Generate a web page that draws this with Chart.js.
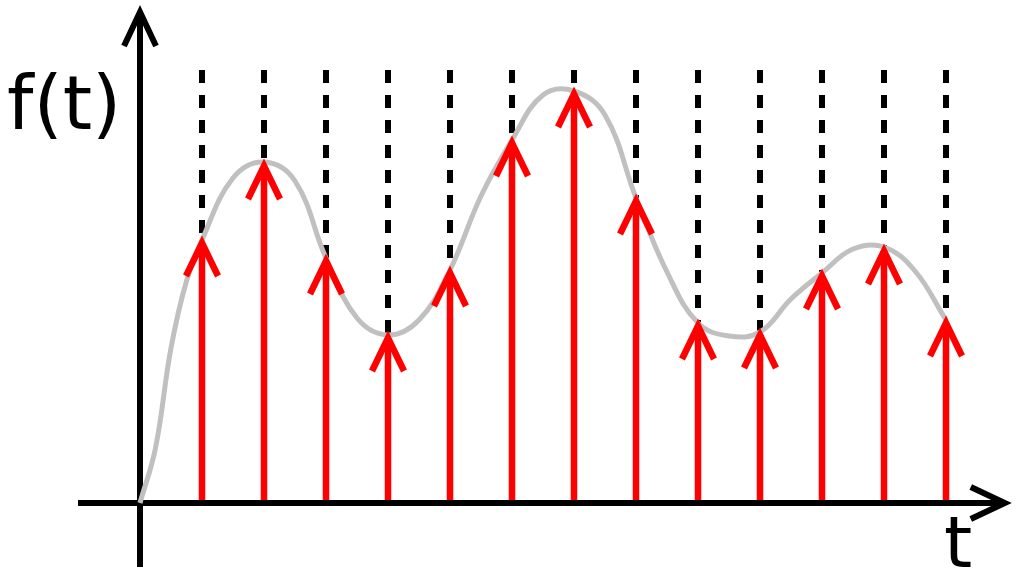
<!DOCTYPE html>
<html>
<head>
<meta charset="utf-8">
<script src="https://cdn.jsdelivr.net/npm/chart.js@4"></script>
<style>
  body { margin: 0; background: #fff; }
  #wrap { width: 1024px; height: 578px; }
</style>
</head>
<body>
<div id="wrap"><canvas id="c" width="1024" height="578"></canvas></div>
<script>
    // 采样时刻和采样值
    const sampleT = [1, 2, 3, 4, 5, 6, 7, 8, 9, 10, 11, 12, 13];
    const sampleV = [2.63, 3.40, 2.45, 1.68, 2.33, 3.63, 4.12, 3.05, 1.80, 1.71, 2.30, 2.55, 1.83];

    // 连续信号 f(t)（从图中读出的点）
    const curveT = [0, 0.25, 0.5, 0.75, 1, 1.5, 2, 2.5, 3, 3.5, 4, 4.5, 5, 5.5, 6, 6.5, 7, 7.5,
                    8, 8.5, 9, 9.5, 10, 10.5, 11, 11.5, 12, 12.5, 13];
    const curveV = [0, 0.55, 1.55, 2.22, 2.63, 3.25, 3.41, 3.22, 2.45, 1.85, 1.68, 1.83, 2.33, 3.07, 3.63,
                    4.08, 4.12, 3.88, 3.05, 2.31, 1.80, 1.67, 1.71, 2.04, 2.30, 2.54, 2.56, 2.32, 1.83];

    const axisLabelY = 'f(t)';
    const axisLabelX = 't';

    // 画坐标轴、虚线
    const backPlugin = {
        id: 'back',
        beforeDatasetsDraw(chart) {
            const ctx = chart.ctx;
            const x = chart.scales.x, y = chart.scales.y;
            const x0 = x.getPixelForValue(0), y0 = y.getPixelForValue(0);
            ctx.save();
            ctx.strokeStyle = '#000';
            ctx.lineWidth = 6;
            ctx.lineCap = 'butt';
            // x轴
            const xEnd = x.getPixelForValue(13.98);
            ctx.beginPath();
            ctx.moveTo(x.getPixelForValue(-1), y0);
            ctx.lineTo(xEnd - 2, y0);
            ctx.stroke();
            ctx.beginPath();
            ctx.moveTo(xEnd - 36, y0 - 16);
            ctx.lineTo(xEnd - 2, y0);
            ctx.lineTo(xEnd - 36, y0 + 16);
            ctx.stroke();
            // y轴
            const yEnd = y.getPixelForValue(4.93);
            ctx.beginPath();
            ctx.moveTo(x0, y.getPixelForValue(-0.64));
            ctx.lineTo(x0, yEnd + 2);
            ctx.stroke();
            ctx.beginPath();
            ctx.moveTo(x0 - 16, yEnd + 36);
            ctx.lineTo(x0, yEnd + 2);
            ctx.lineTo(x0 + 16, yEnd + 36);
            ctx.stroke();
            // 虚线
            ctx.setLineDash([13, 12]);
            ctx.lineWidth = 6;
            const top = y.getPixelForValue(4.33);
            sampleT.forEach(function(t, i) {
                const px = x.getPixelForValue(t);
                ctx.beginPath();
                ctx.moveTo(px, top);
                ctx.lineTo(px, y.getPixelForValue(sampleV[i]));
                ctx.stroke();
            });
            ctx.setLineDash([]);
            // 文字
            ctx.fillStyle = '#000';
            ctx.font = '75px "DejaVu Sans"';
            ctx.textBaseline = 'alphabetic';
            ctx.fillText(axisLabelY, 7, 129);
            ctx.font = '72px "DejaVu Sans"';
            ctx.fillText(axisLabelX, 944, 567);
            ctx.restore();
        },
        afterDatasetsDraw(chart) {
            // 红色箭头
            const ctx = chart.ctx;
            const x = chart.scales.x, y = chart.scales.y;
            const y0 = y.getPixelForValue(0);
            ctx.save();
            ctx.strokeStyle = '#ff0000';
            ctx.lineWidth = 6.5;
            ctx.lineCap = 'butt';
            ctx.lineJoin = 'miter';
            sampleT.forEach(function(t, i) {
                const px = x.getPixelForValue(t);
                const py = y.getPixelForValue(sampleV[i]);
                ctx.beginPath();
                ctx.moveTo(px, y0 - 3);
                ctx.lineTo(px, py + 3);
                ctx.stroke();
                ctx.beginPath();
                ctx.moveTo(px - 16, py + 36);
                ctx.lineTo(px, py + 3);
                ctx.lineTo(px + 16, py + 36);
                ctx.stroke();
            });
            ctx.restore();
        }
    };

    const curveData = curveT.map(function(t, i) { return { x: t, y: curveV[i] }; });

    const config = {
        type: 'line',
        data: {
            datasets: [{
                data: curveData,
                borderColor: '#c0c0c0',
                borderWidth: 5,
                pointRadius: 0,
                tension: 0.4,
                fill: false
            }]
        },
        options: {
            responsive: false,
            animation: false,
            layout: { padding: 0 },
            plugins: { legend: { display: false }, tooltip: { enabled: false } },
            scales: {
                x: { type: 'linear', display: false, min: -140 / 62, max: 884 / 62 },
                y: { type: 'linear', display: false, min: -0.75, max: 5.03 }
            }
        },
        plugins: [backPlugin]
    };

    const myChart = new Chart(document.getElementById('c'), config);
</script>
</body>
</html>
